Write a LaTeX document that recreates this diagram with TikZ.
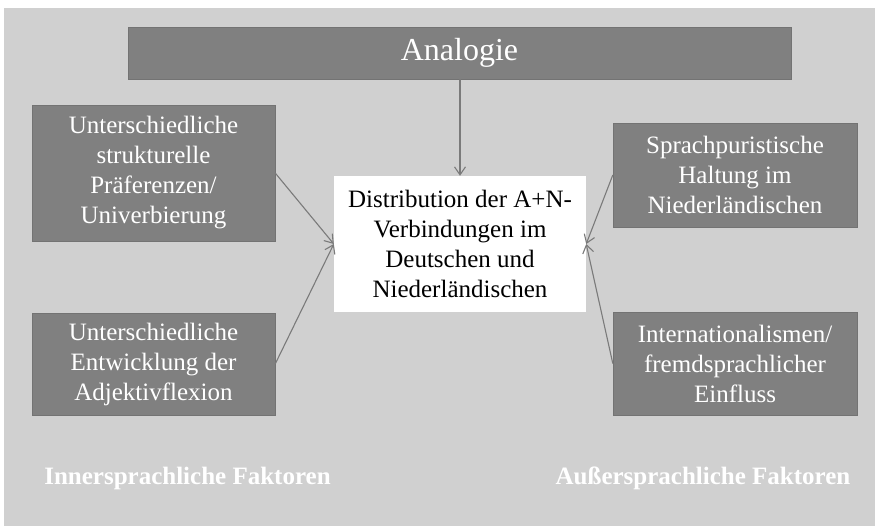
\documentclass[tikz,border=0pt]{standalone}
\usepackage{fontspec}
\setmainfont{Liberation Serif}
\usepackage{xcolor}
\usepackage{tikz}
\usetikzlibrary{arrows.meta}

\definecolor{bggray}{HTML}{D0D0D0}
\definecolor{boxgray}{HTML}{808080}
\definecolor{arrgray}{HTML}{7A7A7A}

\begin{document}
\begin{tikzpicture}[
  x=1pt, y=-1pt,
  box/.style={fill=boxgray, draw=boxgray!90!black, line width=0.4pt, text=white,
              align=center, inner sep=0pt, font=\fontsize{25}{30}\selectfont},
  centre/.style={fill=white, draw=none, text=black, align=center, inner sep=0pt,
                 font=\fontsize{25}{30}\selectfont},
  factor/.style={text=white, font=\fontsize{25}{30}\selectfont\bfseries},
  arr/.style={-{Straight Barb[length=8pt,width=11pt]}, line width=1.1pt, draw=arrgray}
]
  % Background
  \useasboundingbox (0,0) rectangle (875,526);
  \fill[white] (0,0) rectangle (875,526);
  \fill[bggray] (4,8) rectangle (875,526);

  % Nodes
  \node[box, minimum width=663pt, minimum height=52pt,
        font=\fontsize{32}{36}\selectfont] (ana) at (459.5,53) {Analogie};
  \node[box, minimum width=243pt, minimum height=136pt] (pref) at (153.5,173)
    {Unterschiedliche\\strukturelle\\Präferenzen/\\Univerbierung};
  \node[box, minimum width=243pt, minimum height=102pt] (flex) at (153.5,364)
    {Unterschiedliche\\Entwicklung der\\Adjektivflexion};
  \node[centre, minimum width=252pt, minimum height=136pt] (dist) at (460,244)
    {Distribution der A+N-\\Verbindungen im\\Deutschen und\\Niederländischen};
  \node[box, minimum width=244pt, minimum height=104pt] (puri) at (735,175)
    {Sprachpuristische\\Haltung im\\Niederländischen};
  \node[box, minimum width=244pt, minimum height=103pt] (intl) at (735,363.5)
    {Internationalismen/\\fremdsprachlicher\\Einfluss};

  % Factor labels
  \node[factor] (inner) at (187.5,478) {Innersprachliche Faktoren};
  \node[factor] (outer) at (703,478) {Außersprachliche Faktoren};

  % Arrows
  \draw[arr] (ana.south -| dist.north) -- (dist.north);
  \draw[arr] (pref.east) -- (dist.west);
  \draw[arr] (flex.east) -- (dist.west);
  \draw[arr] (puri.west) -- (dist.east);
  \draw[arr] (intl.west) -- (dist.east);
\end{tikzpicture}
\end{document}
